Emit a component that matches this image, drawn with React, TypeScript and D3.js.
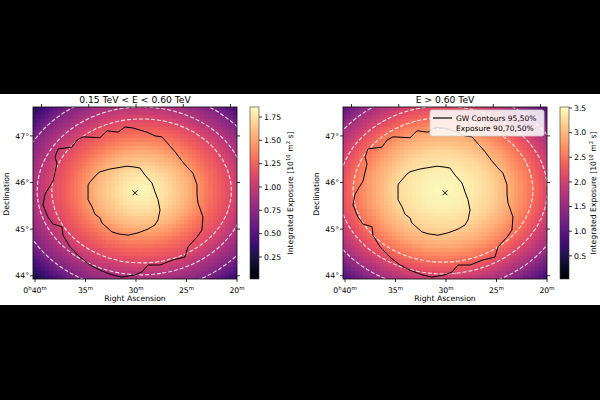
import React, { useMemo } from "react";
import * as d3 from "d3";

// GW localisation contours, [RA minutes past 0h, Dec deg]
const gw95 = [
  [39.01, 45.75], [38.22, 46.03], [37.82, 46.4], [38.02, 46.55], [37.72, 46.72],
  [36.34, 46.76], [35.84, 46.91], [35.25, 46.98], [33.57, 46.96], [32.87, 47.11],
  [31.78, 47.08], [31.09, 47.19], [30.3, 47.17], [28.91, 47.08], [28.12, 47.0],
  [27.43, 46.98], [26.83, 46.83], [26.14, 46.66], [25.45, 46.46], [24.85, 46.31],
  [24.36, 46.2], [23.96, 45.95], [23.96, 45.75], [23.86, 45.56], [23.37, 45.26],
  [23.47, 44.98], [23.96, 44.83], [24.85, 44.62], [25.15, 44.4], [26.34, 44.34],
  [27.62, 44.23], [28.81, 44.23], [29.41, 44.08], [30.1, 44.02], [31.39, 43.97],
  [32.38, 44.02], [33.57, 44.12], [34.56, 44.23], [35.55, 44.4], [36.54, 44.62],
  [37.23, 44.87], [37.33, 45.05], [38.22, 45.11], [38.72, 45.26], [39.21, 45.52],
];
const gw50 = [
  [34.75, 45.75], [34.75, 45.95], [34.56, 46.01], [33.86, 46.18], [33.57, 46.23],
  [32.58, 46.29], [30.89, 46.35], [30.1, 46.33], [29.6, 46.31], [29.11, 46.16],
  [28.42, 45.99], [28.12, 45.8], [27.82, 45.63], [27.62, 45.41], [27.82, 45.2],
  [28.12, 45.09], [28.81, 45.0], [29.8, 44.92], [30.79, 44.87], [31.78, 44.9],
  [32.38, 44.94], [33.37, 45.13], [33.57, 45.24], [34.06, 45.32], [34.36, 45.48],
  [34.75, 45.63],
];
const gwPeak = [30.1, 45.78];

// exposure vs angular distance from pointing centre (deg -> 1e10 m^2 s)
const profileRadii = [0, 0.4, 0.8, 1.2, 1.55, 1.8, 2.15, 2.6, 3.2];
const lowExposure = [1.84, 1.74, 1.56, 1.3, 1.11, 0.93, 0.69, 0.26, 0.06];
const highExposure = [3.48, 3.41, 3.24, 2.89, 2.46, 2.11, 1.58, 0.77, 0.28];
const lowCentre = [29.45, 45.82];
const highCentre = [30.3, 45.84];
const lowLevels = [1.11, 0.93, 0.69];
const highLevels = [2.46, 2.11, 1.58];
const lowRange = [0.014, 1.857];
const highRange = [0.03, 3.52];
const lowTicks = [0.25, 0.5, 0.75, 1.0, 1.25, 1.5, 1.75];
const highTicks = [0.5, 1.0, 1.5, 2.0, 2.5, 3.0, 3.5];

const raTicks = [40, 35, 30, 25, 20];
const decTicks = [44, 45, 46, 47];
const raDomain = [40.2, 20];
const decDomain = [43.93, 47.62];

const FONT = "DejaVu Sans";
const plotTop = 107;
const plotBottom = 279;
const plotW = 204;
const cbW = 9;

const panels = [
  {
    key: "low", left: 33, title: "0.15 TeV < E < 0.60 TeV",
    profile: lowExposure, centre: lowCentre, levels: lowLevels, range: lowRange,
    ticks: lowTicks, fmt: d3.format(".2f"), cbLeft: 250, labelX: 293, legend: false,
  },
  {
    key: "high", left: 343, title: "E > 0.60 TeV",
    profile: highExposure, centre: highCentre, levels: highLevels, range: highRange,
    ticks: highTicks, fmt: d3.format(".1f"), cbLeft: 560, labelX: 596, legend: true,
  },
];

const magmaStops = d3.range(0, 1.0001, 0.05);

function Panel({ p }) {
  const x = d3.scaleLinear().domain(raDomain).range([p.left, p.left + plotW]);
  const y = d3.scaleLinear().domain(decDomain).range([plotBottom, plotTop]);
  const color = d3.scaleSequential(d3.interpolateMagma).domain(p.range);

  const nx = 50, ny = 44, pad = 8;
  const cw = plotW / nx, ch = (plotBottom - plotTop) / ny;
  const NX = nx + 2 * pad, NY = ny + 2 * pad;
  const gx0 = p.left - pad * cw, gy0 = plotTop - pad * ch;

  const { values, href } = useMemo(() => {
    const prof = d3.scaleLinear().domain(profileRadii).range(p.profile).clamp(true);
    const cosd = Math.cos((p.centre[1] * Math.PI) / 180);
    const vals = new Array(NX * NY);
    for (let j = 0; j < NY; j++) {
      for (let i = 0; i < NX; i++) {
        const ra = x.invert(gx0 + (i + 0.5) * cw);
        const dec = y.invert(gy0 + (j + 0.5) * ch);
        const dx = (ra - p.centre[0]) * 0.25 * cosd;
        const dy = dec - p.centre[1];
        vals[j * NX + i] = prof(Math.hypot(dx, dy));
      }
    }
    // paint the exposure cells into a small bitmap, one pixel per cell
    const canvas = document.createElement("canvas");
    canvas.width = NX;
    canvas.height = NY;
    const ctx = canvas.getContext("2d");
    const img = ctx.createImageData(NX, NY);
    vals.forEach((v, k) => {
      const c = d3.rgb(color(v));
      img.data[k * 4] = c.r;
      img.data[k * 4 + 1] = c.g;
      img.data[k * 4 + 2] = c.b;
      img.data[k * 4 + 3] = 255;
    });
    ctx.putImageData(img, 0, 0);
    return { values: vals, href: canvas.toDataURL() };
  }, [p.key]);

  const contours = d3.contours().size([NX, NY]).thresholds(p.levels)(values);
  const gridPath = d3.geoPath(
    d3.geoTransform({
      point(px, py) {
        this.stream.point(gx0 + px * cw, gy0 + py * ch);
      },
    })
  );
  const gwLine = d3.line().x((d) => x(d[0])).y((d) => y(d[1])).curve(d3.curveLinearClosed);

  // RA lines converge towards the pole, so top ticks sit closer together
  const shrink = Math.cos((decDomain[1] * Math.PI) / 180) / Math.cos((decDomain[0] * Math.PI) / 180);
  const cx = x(30);
  const topX = (t) => cx + (x(t) - cx) * shrink;

  const cb = d3.scaleLinear().domain(p.range).range([plotBottom, plotTop]);
  const clipId = `clip-${p.key}`;
  const gradId = `grad-${p.key}`;
  const mx = x(gwPeak[0]), my = y(gwPeak[1]);
  const midY = (plotTop + plotBottom) / 2;

  return (
    <g fontFamily={FONT}>
      <defs>
        <clipPath id={clipId}>
          <rect x={p.left} y={plotTop} width={plotW} height={plotBottom - plotTop} />
        </clipPath>
        <linearGradient id={gradId} x1="0" y1="1" x2="0" y2="0">
          {magmaStops.map((t) => (
            <stop key={t} offset={t} stopColor={d3.interpolateMagma(t)} />
          ))}
        </linearGradient>
      </defs>

      <g clipPath={`url(#${clipId})`}>
        <image href={href} x={gx0} y={gy0} width={NX * cw} height={NY * ch}
          preserveAspectRatio="none" style={{ imageRendering: "pixelated" }} />
        {contours.map((c, k) => (
          <path key={k} d={gridPath(c)} fill="none" stroke="#ffffff" strokeOpacity={0.85}
            strokeWidth={1.1} strokeDasharray="4 2" />
        ))}
        <path d={gwLine(gw95)} fill="none" stroke="#000" strokeWidth={1} />
        <path d={gwLine(gw50)} fill="none" stroke="#000" strokeWidth={1} />
        <path d={`M${mx - 2.5},${my - 2.5}L${mx + 2.5},${my + 2.5}M${mx - 2.5},${my + 2.5}L${mx + 2.5},${my - 2.5}`}
          stroke="#000" strokeWidth={0.9} />
      </g>

      <rect x={p.left} y={plotTop} width={plotW} height={plotBottom - plotTop} fill="none"
        stroke="#000" strokeWidth={0.8} />

      {raTicks.map((t) => (
        <g key={t}>
          <line x1={x(t)} x2={x(t)} y1={plotBottom} y2={plotBottom + 3} stroke="#000" strokeWidth={0.8} />
          <line x1={topX(t)} x2={topX(t)} y1={plotTop} y2={plotTop - 3} stroke="#000" strokeWidth={0.8} />
          <text x={x(t)} y={293} textAnchor="middle" fontSize={7.7}>
            {t === 40 ? (
              <>
                0<tspan dy={-3} fontSize={5.4}>h</tspan>
                <tspan dy={3}>40</tspan>
              </>
            ) : (
              `${t}`
            )}
            <tspan dy={-3} fontSize={5.4}>m</tspan>
          </text>
        </g>
      ))}
      {decTicks.map((t) => (
        <g key={t}>
          <line x1={p.left} x2={p.left - 3} y1={y(t)} y2={y(t)} stroke="#000" strokeWidth={0.8} />
          <line x1={p.left + plotW} x2={p.left + plotW + 3} y1={y(t)} y2={y(t)} stroke="#000" strokeWidth={0.8} />
          <text x={p.left - 4} y={y(t)} dy="0.35em" textAnchor="end" fontSize={7.7}>{`${t}°`}</text>
        </g>
      ))}

      <text x={p.left + plotW / 2} y={301} textAnchor="middle" fontSize={7.7}>Right Ascension</text>
      <text transform={`translate(${p.left - 24},${midY + 1}) rotate(-90)`} textAnchor="middle" fontSize={7.7}>
        Declination
      </text>
      <text x={p.left + plotW / 2} y={102.5} textAnchor="middle" fontSize={9.2}>{p.title}</text>

      <rect x={p.cbLeft} y={plotTop} width={cbW} height={plotBottom - plotTop} fill={`url(#${gradId})`}
        stroke="#333" strokeWidth={0.6} />
      {p.ticks.map((t) => (
        <g key={t}>
          <line x1={p.cbLeft + cbW} x2={p.cbLeft + cbW + 3} y1={cb(t)} y2={cb(t)} stroke="#000" strokeWidth={0.8} />
          <text x={p.cbLeft + cbW + 5} y={cb(t)} dy="0.35em" fontSize={7.7}>{p.fmt(t)}</text>
        </g>
      ))}
      <text transform={`translate(${p.labelX},${midY}) rotate(-90)`} textAnchor="middle" fontSize={7.7}>
        Integrated Exposure [10<tspan dy={-3} fontSize={5.4}>10</tspan>
        <tspan dy={3}> m</tspan>
        <tspan dy={-3} fontSize={5.4}>2</tspan>
        <tspan dy={3}> s]</tspan>
      </text>

      {p.legend && (
        <g>
          <rect x={430} y={110} width={114} height={26} rx={2} fill="#fff" fillOpacity={0.85}
            stroke="#cccccc" strokeWidth={0.8} />
          <line x1={433} x2={452} y1={118} y2={118} stroke="#000" strokeWidth={1.2} />
          <text x={456} y={118} dy="0.35em" fontSize={7.5}>GW Contours 95,50%</text>
          <line x1={433} x2={452} y1={128.5} y2={128.5} stroke="#dddddd" strokeWidth={1.2}
            strokeDasharray="4 2" />
          <text x={456} y={128.5} dy="0.35em" fontSize={7.5}>Exposure 90,70,50%</text>
        </g>
      )}
    </g>
  );
}

export default function App() {
  return (
    <svg width={600} height={400} style={{ position: "absolute", left: 0, top: 0 }}>
      <rect width={600} height={400} fill="#000" />
      <rect y={94} width={600} height={211} fill="#fff" />
      {panels.map((p) => (
        <Panel key={p.key} p={p} />
      ))}
    </svg>
  );
}
